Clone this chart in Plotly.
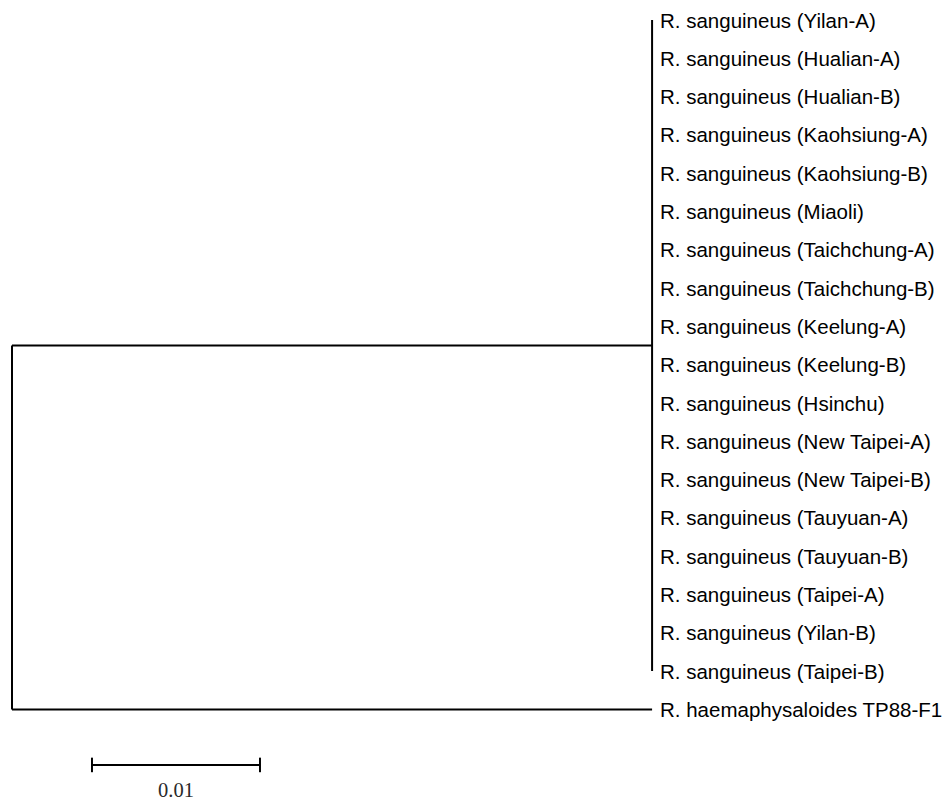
import plotly.graph_objects as go

# ---- data ----
leaf_names = [
    "R. sanguineus (Yilan-A)", "R. sanguineus (Hualian-A)", "R. sanguineus (Hualian-B)",
    "R. sanguineus (Kaohsiung-A)", "R. sanguineus (Kaohsiung-B)", "R. sanguineus (Miaoli)",
    "R. sanguineus (Taichchung-A)", "R. sanguineus (Taichchung-B)", "R. sanguineus (Keelung-A)",
    "R. sanguineus (Keelung-B)", "R. sanguineus (Hsinchu)", "R. sanguineus (New Taipei-A)",
    "R. sanguineus (New Taipei-B)", "R. sanguineus (Tauyuan-A)", "R. sanguineus (Tauyuan-B)",
    "R. sanguineus (Taipei-A)", "R. sanguineus (Yilan-B)", "R. sanguineus (Taipei-B)",
]
outgroup_name = "R. haemaphysaloides TP88-F1"
clade_branch_length = 0.0381      # root -> sanguineus clade
outgroup_branch_length = 0.0381   # root -> haemaphysaloides
leaf_branch_lengths = [0.0] * len(leaf_names)
scale_length = 0.01
scale_label = "0.01"
scale_start = 0.00476

# ---- layout helpers ----
n = len(leaf_names)
leaf_y = list(range(n))
out_y = n
clade_y = (leaf_y[0] + leaf_y[-1]) / 2
clade_x = clade_branch_length
LINE = dict(color="black", width=2)

fig = go.Figure()

def seg(x0, y0, x1, y1):
    fig.add_trace(go.Scatter(x=[x0, x1], y=[y0, y1], mode="lines", line=LINE,
                             hoverinfo="skip", showlegend=False))

# root vertical
seg(0, clade_y, 0, out_y)
# root -> clade
seg(0, clade_y, clade_x, clade_y)
# clade vertical
seg(clade_x, leaf_y[0], clade_x, leaf_y[-1])
# leaves
for y, bl in zip(leaf_y, leaf_branch_lengths):
    if bl > 0:
        seg(clade_x, y, clade_x + bl, y)
# root -> outgroup
seg(0, out_y, outgroup_branch_length, out_y)

# labels
LABEL_FONT = dict(family="Liberation Sans, Arial, sans-serif", size=20.5, color="black")
for name, y, bl in zip(leaf_names, leaf_y, leaf_branch_lengths):
    fig.add_annotation(x=clade_x + bl, y=y, text=name, showarrow=False,
                       xanchor="left", yanchor="middle", xshift=6, font=LABEL_FONT)
fig.add_annotation(x=outgroup_branch_length, y=out_y, text=outgroup_name, showarrow=False,
                   xanchor="left", yanchor="middle", xshift=6, font=LABEL_FONT)

# scale bar
sb_y = 19.45
tick = 0.19
seg(scale_start, sb_y, scale_start + scale_length, sb_y)
seg(scale_start, sb_y - tick, scale_start, sb_y + tick)
seg(scale_start + scale_length, sb_y - tick, scale_start + scale_length, sb_y + tick)
fig.add_annotation(x=scale_start + scale_length / 2, y=sb_y + 0.66, text=scale_label,
                   showarrow=False, xanchor="center", yanchor="middle",
                   font=dict(family="Liberation Serif, Times New Roman, serif", size=20.5,
                             color="#2a2a2a"))

W, H = 948, 803
px_per_unit = 16800.0
x0_px = 12
y0_px, dy_px = 20, 38.3
fig.update_layout(
    width=W, height=H, margin=dict(l=0, r=0, t=0, b=0),
    paper_bgcolor="white", plot_bgcolor="white",
    xaxis=dict(range=[-x0_px / px_per_unit, (W - x0_px) / px_per_unit], visible=False,
               fixedrange=True),
    yaxis=dict(range=[(H - y0_px) / dy_px, -y0_px / dy_px], visible=False, fixedrange=True),
)
fig.write_html("out.html", config={"displayModeBar": False, "staticPlot": True},
               post_script="document.body.style.margin='0';document.body.style.overflow='hidden';")
